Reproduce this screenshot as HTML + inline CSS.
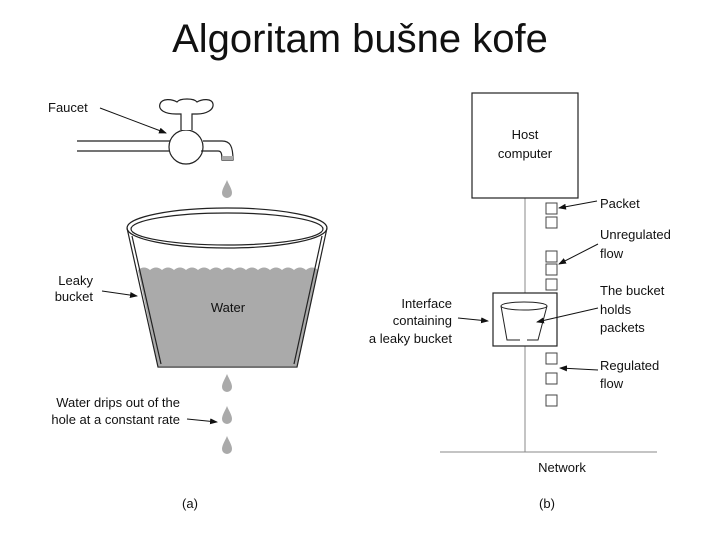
<!DOCTYPE html>
<html><head><meta charset="utf-8"><style>body{margin:0;background:#fff}svg{display:block}text{font-family:"Liberation Sans",sans-serif;fill:#111}</style></head><body>
<svg width="720" height="540" viewBox="0 0 720 540">
<defs><marker id="a" markerWidth="8" markerHeight="6" refX="7" refY="3" orient="auto" markerUnits="userSpaceOnUse"><path d="M0,0 L8,3 L0,6z" fill="#111"/></marker>
<path id="drop" d="M0,-9 C2,-4 5,0 5,4 A5,5 0 0 1 -5,4 C-5,0 -2,-4 0,-9z" fill="#aaa"/></defs>
<text x="360" y="52" font-size="40" text-anchor="middle">Algoritam bušne kofe</text>
<g font-size="13">
<text x="48" y="112">Faucet</text>
<line x1="100" y1="108" x2="166" y2="133" stroke="#111" marker-end="url(#a)"/>
<g stroke="#222" fill="none" stroke-width="1.2">
<path d="M77,141 H170 M77,151 H170"/>
<circle cx="186" cy="147" r="17" fill="#fff"/>
<path d="M181,130 V114 H176 C165,114 158,110 160,104 C162,98 172,99 177,102 C180,98 194,98 197,102 C202,99 212,98 213,104 C214,110 206,114 197,114 H192 V130" fill="#fff"/>
<path d="M203,141 H222 C230,141 233,146 233,160 H222 C222,153 221,151 218,151 H201"/>
</g>
<rect x="222" y="156" width="11" height="4" fill="#aaa"/>
<use href="#drop" x="227" y="189"/>
<path d="M138,270 q6,-5 12,0 q6,-5 12,0 q6,-5 12,0 q6,-5 12,0 q6,-5 12,0 q6,-5 12,0 q6,-5 12,0 q6,-5 12,0 q6,-5 12,0 q6,-5 12,0 q6,-5 12,0 q6,-5 12,0 q6,-5 12,0 q6,-5 12,0 q6,-5 12,0 L297,366 H158 Z" fill="#aaa"/>
<g stroke="#222" fill="none" stroke-width="1.2">
<ellipse cx="227" cy="228" rx="100" ry="20"/>
<ellipse cx="227" cy="229" rx="96" ry="16"/>
<path d="M127,228 L158,367 H297 L327,228"/>
<path d="M132,236 L161,364 M322,236 L294,364"/>
</g>
<text x="228" y="312" text-anchor="middle">Water</text>
<text x="93" y="285" text-anchor="end">Leaky</text>
<text x="93" y="301" text-anchor="end">bucket</text>
<line x1="102" y1="291" x2="137" y2="296" stroke="#111" marker-end="url(#a)"/>
<use href="#drop" x="227" y="383"/>
<use href="#drop" x="227" y="415"/>
<use href="#drop" x="227" y="445"/>
<text x="180" y="407" text-anchor="end">Water drips out of the</text>
<text x="180" y="424" text-anchor="end">hole at a constant rate</text>
<line x1="187" y1="419" x2="217" y2="422" stroke="#111" marker-end="url(#a)"/>
<text x="190" y="508" text-anchor="middle">(a)</text>
<line x1="525" y1="198" x2="525" y2="452" stroke="#888"/>
<line x1="440" y1="452" x2="657" y2="452" stroke="#888"/>
<rect x="472" y="93" width="106" height="105" fill="#fff" stroke="#222" stroke-width="1.2"/>
<text x="525" y="139" text-anchor="middle">Host</text>
<text x="525" y="158" text-anchor="middle">computer</text>
<rect x="493" y="293" width="64" height="53" fill="#fff" stroke="#222" stroke-width="1.2"/>
<g stroke="#222" fill="none">
<ellipse cx="524" cy="306" rx="23" ry="4"/>
<path d="M501,306 L507,340 H520 M527,340 H538 L547,306"/>
</g>
<g fill="#fff" stroke="#444">
<rect x="546" y="203" width="11" height="11"/><rect x="546" y="217" width="11" height="11"/>
<rect x="546" y="251" width="11" height="11"/><rect x="546" y="264" width="11" height="11"/><rect x="546" y="279" width="11" height="11"/>
<rect x="546" y="353" width="11" height="11"/><rect x="546" y="373" width="11" height="11"/><rect x="546" y="395" width="11" height="11"/>
</g>
<text x="600" y="208">Packet</text>
<text x="600" y="239">Unregulated</text>
<text x="600" y="258">flow</text>
<text x="600" y="295">The bucket</text>
<text x="600" y="314">holds</text>
<text x="600" y="332">packets</text>
<text x="600" y="370">Regulated</text>
<text x="600" y="388">flow</text>
<text x="452" y="308" text-anchor="end">Interface</text>
<text x="452" y="325" text-anchor="end">containing</text>
<text x="452" y="343" text-anchor="end">a leaky bucket</text>
<text x="562" y="472" text-anchor="middle">Network</text>
<g stroke="#111" marker-end="url(#a)">
<line x1="597" y1="201" x2="559" y2="208"/>
<line x1="598" y1="244" x2="559" y2="264"/>
<line x1="598" y1="308" x2="537" y2="322"/>
<line x1="458" y1="318" x2="488" y2="321"/>
<line x1="598" y1="370" x2="560" y2="368"/>
</g>
<text x="547" y="508" text-anchor="middle">(b)</text>
</g>
</svg>
</body></html>
